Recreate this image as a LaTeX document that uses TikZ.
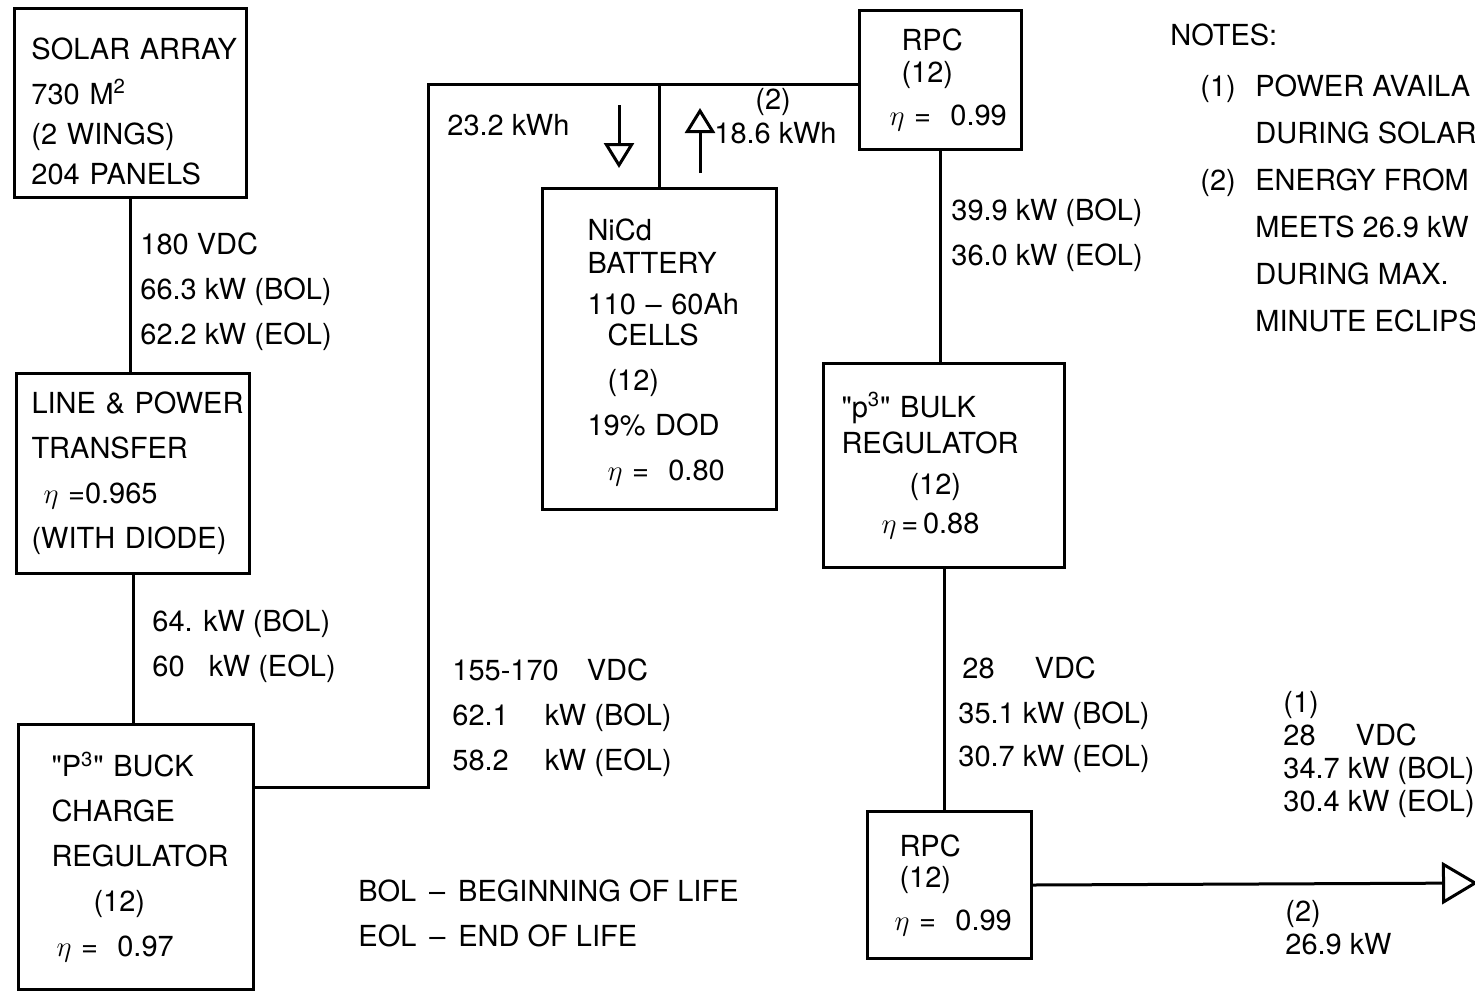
\documentclass[tikz,border=0pt]{standalone}
\usepackage{fontspec}
\setmainfont{TeX Gyre Heros}
\usepackage{tikz}
\usetikzlibrary{arrows.meta,positioning}

\begin{document}
\begin{tikzpicture}[
  x=0.5pt, y=-0.5pt,
  font=\fontsize{14.5}{22.5}\selectfont,
  box/.style={draw, line width=1.5pt, anchor=north west, align=left, inner xsep=1pt, inner ysep=0pt},
  lbl/.style={anchor=west, align=left, inner sep=0pt},
  wire/.style={line width=1.5pt},
  openarr/.style={-{Triangle[open, length=12.5pt, width=15pt]}, line width=1.5pt},
  outarr/.style={-{Triangle[open, length=18pt, width=21pt]}, line width=1.5pt}
]
\useasboundingbox (0,0) rectangle (1475,990);
% boxes
\node[box, text width=114pt, minimum height=94.5pt] (sa) at (13,7)
  {\leftskip=7.5pt\rule{0pt}{19pt}SOLAR ARRAY\\730 M\textsuperscript{2}\\[-2.5pt](2 WINGS)\\[-2.5pt]204 PANELS\par};
\node[box, text width=114.5pt, minimum height=100pt] (lpt) at (15,372)
  {\leftskip=6.5pt LINE \& POWER\\TRANSFER\\\hspace*{6pt}$\eta$ =0.965\\(WITH DIODE)\par};
\node[box, text width=115.5pt, minimum height=132.5pt] (bcr) at (17,723)
  {\leftskip=15.5pt\textquotedbl P\textsuperscript{3}\textquotedbl\ BUCK\\CHARGE\\REGULATOR\\\hspace*{21pt}(12)\\\hspace*{2.5pt}$\eta$ = \ 0.97\par};
\node[box, text width=115pt, minimum height=160.5pt] (bat) at (541,187)
  {\leftskip=21.5pt\rule{0pt}{14pt}NiCd\\[-6pt]BATTERY\\[-2pt]110 -- 60Ah\\[-7pt]\hspace*{10pt}CELLS\\\hspace*{10pt}(12)\\19\% DOD\\\hspace*{10pt}$\eta$ = \ 0.80\par};
\node[box, text width=79pt, minimum height=69.5pt] (rpc1) at (858,9)
  {\leftskip=7pt\hspace*{13pt}RPC\\[-6.5pt]\hspace*{13pt}(12)\\[-1pt]\hspace*{7pt}$\eta$ = \ 0.99\par};
\node[box, text width=118.5pt, minimum height=102pt] (bulk) at (822,362)
  {\leftskip=8pt\textquotedbl p\textsuperscript{3}\textquotedbl\ BULK\\[-4.5pt]REGULATOR\\[-2pt]\hspace*{34pt}(12)\\[-3pt]\hspace*{20pt}$\eta$\,=\,0.88\par};
\node[box, text width=80pt, minimum height=73.5pt] (rpc2) at (866,810)
  {\leftskip=7pt\hspace*{8pt}RPC\\[-7pt]\hspace*{8pt}(12)\\[-1pt]\hspace*{5.5pt}$\eta$ = \ 0.99\par};

% labels
\node[lbl] (saout) at (140,292) {180 VDC\\66.3 kW (BOL)\\62.2 kW (EOL)};
\node[lbl] (lptout) at (152,646) {64. kW (BOL)\\60\phantom{.} \ kW (EOL)};
\node[lbl] (busv) at (452,718) {155-170\hspace{10pt} VDC\\62.1\hspace{14pt} kW (BOL)\\58.2\hspace{14pt} kW (EOL)};
\node[lbl] (chg) at (447,125) {23.2 kWh};
\node[lbl] (dis) at (714,133) {18.6 kWh};
\node[lbl] (disnote) at (755,102) {(2)};
\node[lbl] (rpcout) at (951,235) {39.9 kW (BOL)\\36.0 kW (EOL)};
\node[lbl] (bulkout) at (958,715) {\hspace*{2pt}28\hspace{20pt}VDC\\35.1 kW (BOL)\\[-1pt]30.7 kW (EOL)};
\node[lbl, font=\fontsize{14.5}{16.5}\selectfont] (loadday) at (1283,754) {(1)\\28\hspace{20pt}VDC\\34.7 kW (BOL)\\30.4 kW (EOL)};
\node[lbl, font=\fontsize{14.5}{16.5}\selectfont] (loadecl) at (1285,928) {(2)\\26.9 kW};
\node[lbl] (legend) at (358,913) {BOL \,--\, BEGINNING OF LIFE\\EOL \,--\, END OF LIFE};
\node[lbl] (notes) at (1170,35) {NOTES:};
\node[lbl, font=\fontsize{14.5}{23.5}\selectfont] (notelist) at (1200,203)
  {\makebox[27.5pt][l]{(1)}POWER AVAILA\\\hspace*{27.5pt}DURING SOLAR\\\makebox[27.5pt][l]{(2)}ENERGY FROM\\\hspace*{27.5pt}MEETS 26.9 kW\\\hspace*{27.5pt}DURING MAX.\\\hspace*{27.5pt}MINUTE ECLIPS};

% connectors
\coordinate (buscorner) at (428,787);
\coordinate (bustop) at (428,85);
\coordinate (chgtop) at (619,105);
\coordinate (chgend) at (619,168);
\coordinate (disbot) at (700,173);
\coordinate (disend) at (700,108);
\coordinate (outend) at (1478,883);
\draw[wire] (sa.south) -- (sa.south |- lpt.north);
\draw[wire] (lpt.south) -- (lpt.south |- bcr.north);
\draw[wire] (bcr.east |- buscorner) -- (buscorner) -- (bustop) -- (rpc1.west |- bustop);
\draw[wire] (bat.north) -- (bat.north |- bustop);
\draw[wire] (rpc1.south) -- (rpc1.south |- bulk.north);
\draw[wire] (bulk.south) -- (bulk.south |- rpc2.north);
\draw[openarr] (chgtop) -- (chgend);
\draw[openarr] (disbot) -- (disend);
\draw[outarr] (rpc2.east) -- (outend);
\end{tikzpicture}
\end{document}
